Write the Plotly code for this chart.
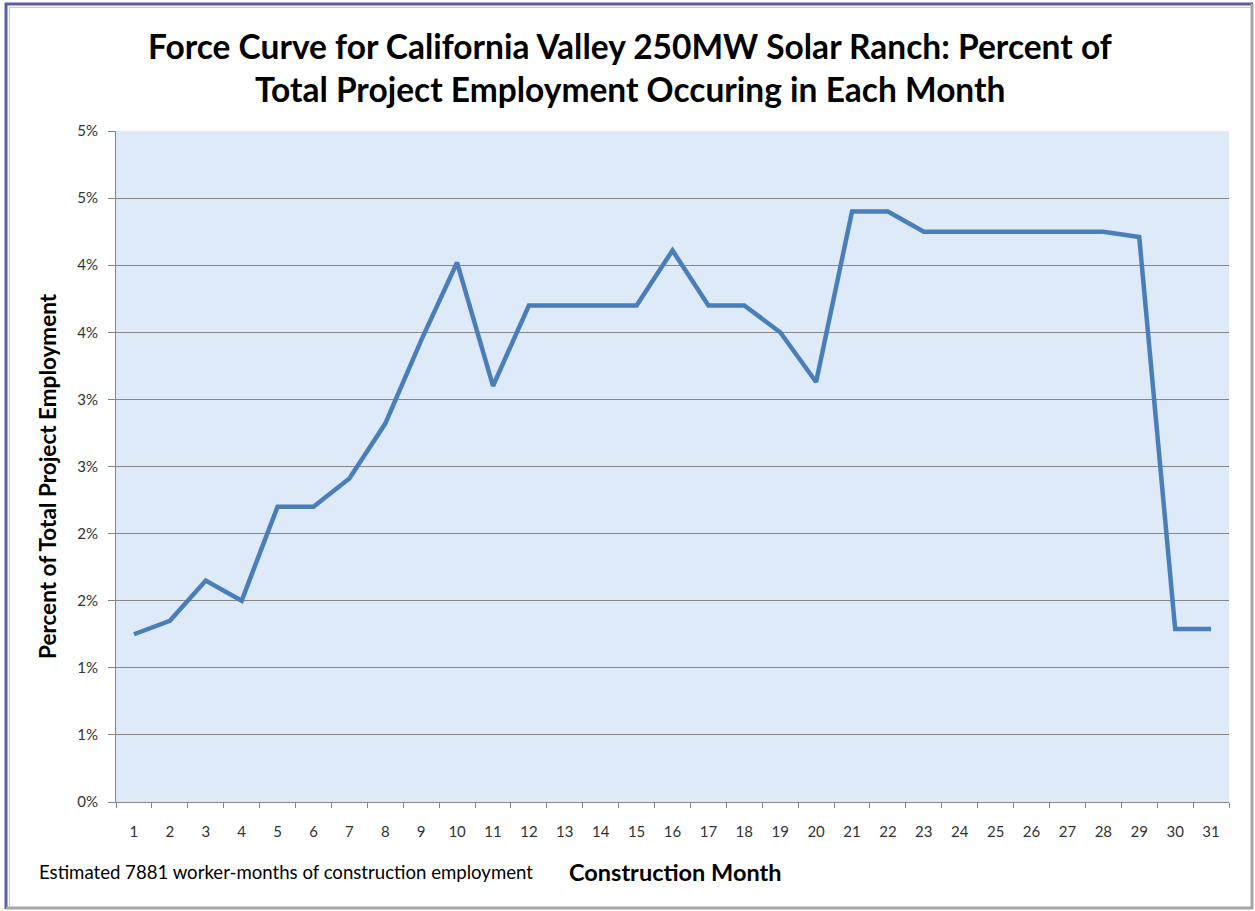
import plotly.graph_objects as go

months = list(range(1, 32))
pct_employment = [1.25, 1.35, 1.65, 1.50, 2.20, 2.20, 2.41, 2.82, 3.44, 4.02,
                  3.10, 3.70, 3.70, 3.70, 3.70, 4.11, 3.70, 3.70, 3.50, 3.13,
                  4.40, 4.40, 4.25, 4.25, 4.25, 4.25, 4.25, 4.25, 4.21, 1.29, 1.29]
y_tick_vals = [0, 0.5, 1.0, 1.5, 2.0, 2.5, 3.0, 3.5, 4.0, 4.5, 5.0]
y_tick_text = ["0%", "1%", "1%", "2%", "2%", "3%", "3%", "4%", "4%", "5%", "5%"]
x_tick_text = [str(m) for m in months]

title_lines = ["Force Curve for California Valley 250MW Solar Ranch: Percent of",
               "Total Project Employment Occuring in Each Month"]
y_title = "Percent of Total Project Employment"
x_title = "Construction Month"
footnote = "Estimated 7881 worker-months of construction employment"

W, H = 1255, 911
L, R, T, B = 116, 1229, 131, 802
PW, PH = R - L, B - T


def px(x):
    return (x - L) / PW


def py(y):
    return (B - y) / PH


FONT = "Lato"

fig = go.Figure()
fig.add_trace(go.Scatter(
    x=months, y=pct_employment, mode="lines",
    line=dict(color="#4a7ebb", width=4.5),
    hoverinfo="x+y", showlegend=False,
))

annotations = [
    dict(text=title_lines[0], x=px(630), y=py(46), xref="paper", yref="paper",
         xanchor="center", yanchor="middle", showarrow=False,
         font=dict(family=FONT, size=33.5, color="#000000", weight="bold")),
    dict(text=title_lines[1], x=px(630), y=py(89), xref="paper", yref="paper",
         xanchor="center", yanchor="middle", showarrow=False,
         font=dict(family=FONT, size=33.5, color="#000000", weight="bold")),
    dict(text=y_title, x=px(47), y=py(476), xref="paper", yref="paper",
         xanchor="center", yanchor="middle", showarrow=False, textangle=-90,
         font=dict(family=FONT, size=22.5, color="#000000", weight="bold")),
    dict(text=x_title, x=px(675), y=py(872), xref="paper", yref="paper",
         xanchor="center", yanchor="middle", showarrow=False,
         font=dict(family=FONT, size=23.5, color="#000000", weight="bold")),
    dict(text=footnote, x=px(37), y=py(872), xref="paper", yref="paper",
         xanchor="left", yanchor="middle", showarrow=False,
         font=dict(family=FONT, size=18.6, color="#000000")),
]

shapes = [
    # outer frame
    dict(type="line", xref="paper", yref="paper", x0=px(6), x1=px(6), y0=py(3), y1=py(909),
         line=dict(color="#5b5ea6", width=3)),
    dict(type="line", xref="paper", yref="paper", x0=px(5), x1=px(1253), y0=py(4), y1=py(4),
         line=dict(color="#5b5ea6", width=3)),
    dict(type="line", xref="paper", yref="paper", x0=px(1252), x1=px(1252), y0=py(4), y1=py(909),
         line=dict(color="#a6a6a6", width=3)),
    dict(type="line", xref="paper", yref="paper", x0=px(6), x1=px(1253), y0=py(908), y1=py(908),
         line=dict(color="#a6a6a6", width=3)),
    dict(type="line", xref="paper", yref="paper", x0=px(9.5), x1=px(9.5), y0=py(7), y1=py(906),
         line=dict(color="#c8c8c8", width=1)),
    dict(type="line", xref="paper", yref="paper", x0=px(9), x1=px(1250), y0=py(7.5), y1=py(7.5),
         line=dict(color="#c8c8c8", width=1)),
]

fig.update_layout(
    width=W, height=H,
    margin=dict(l=L, r=W - R, t=T, b=H - B, pad=0),
    paper_bgcolor="#ffffff",
    plot_bgcolor="#deeaf7",
    annotations=annotations,
    shapes=shapes,
    showlegend=False,
    xaxis=dict(
        range=[0.5, 31.5], tickvals=months, ticktext=x_tick_text,
        ticks="outside", ticklen=16, tickcolor="rgba(0,0,0,0)",
        showline=True, linecolor="#868686", linewidth=1,
        showgrid=False, zeroline=False,
        minor=dict(tick0=0.5, dtick=1, ticks="outside", ticklen=5,
                   tickcolor="#868686", showgrid=False),
        tickfont=dict(family=FONT, size=15, color="#333333"),
        fixedrange=True,
    ),
    yaxis=dict(
        range=[0, 5], tickvals=y_tick_vals, ticktext=y_tick_text,
        ticks="outside", ticklen=7, tickcolor="#868686",
        ticklabelstandoff=7,
        showline=True, linecolor="#868686", linewidth=1,
        showgrid=True, gridcolor="#868686", gridwidth=1,
        zeroline=False,
        tickfont=dict(family=FONT, size=15, color="#333333"),
        fixedrange=True,
    ),
)

fig.write_html("out.html", config={"displayModeBar": False},
               post_script="document.body.style.margin='0';document.body.style.overflow='hidden';")
